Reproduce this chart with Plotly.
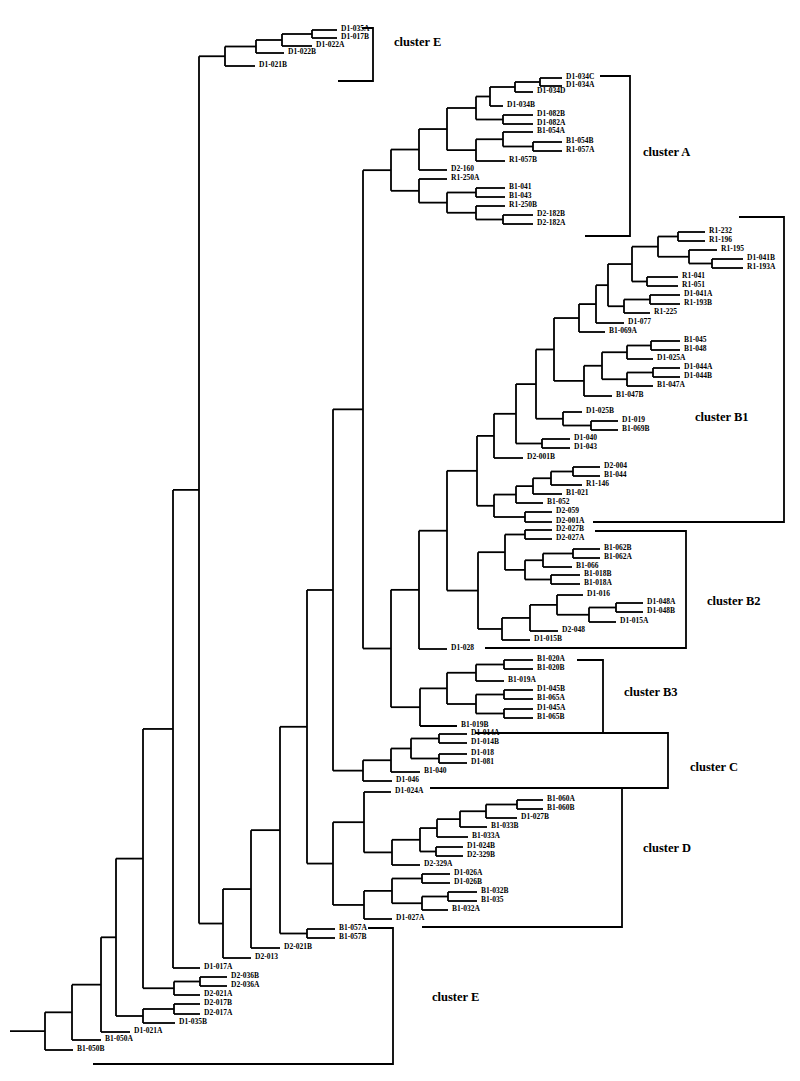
import plotly.graph_objects as go
from collections import defaultdict

# ---------------- DATA ----------------
# Internal nodes of the dendrogram: (node id, parent id, branch position on the distance axis)
backbone_nodes = [
    ("n_root", None, 45), ("n72", "n_root", 72), ("n101", "n72", 101), ("n116", "n101", 116),
    ("n143a", "n116", 143), ("n143b", "n116", 143), ("n173", "n143a", 173), ("n174a", "n143a", 174),
    ("n200a", "n174a", 200), ("n174b", "n143b", 174), ("n199", "n173", 199),
    ("n223", "n199", 223), ("n251", "n223", 251), ("n280", "n251", 280), ("n307", "n280", 307),
    ("n307b", "n280", 307), ("n333a", "n307", 333), ("n333D", "n307", 333),
    ("n363AB", "n333a", 363), ("n363C", "n333a", 363), ("n391A", "n363AB", 391),
    ("n391B", "n363AB", 391), ("n419B", "n391B", 419), ("n447B", "n419B", 447),
]
clusterE_top_nodes = [
    ("nE225", "n199", 225), ("nE256", "nE225", 256), ("nE282", "nE256", 282), ("nE312", "nE282", 312),
]
clusterA_nodes = [
    ("nA419a", "n391A", 419), ("nA419b", "n391A", 419), ("nA447a", "nA419a", 447),
    ("nA476a", "nA447a", 476), ("nA490", "nA476a", 490), ("nA515", "nA490", 515),
    ("nA540", "nA515", 540), ("nA503a", "nA476a", 503), ("nA476b", "nA447a", 476),
    ("nA503b", "nA476b", 503), ("nA533", "nA503b", 533), ("nA447b", "nA419b", 447),
    ("nA476c", "nA447b", 476), ("nA476d", "nA447b", 476), ("nA503c", "nA476d", 503),
]
clusterB1_nodes = [
    ("nB1", "n447B", 477), ("nB1_494a", "nB1", 494), ("nB1_516b", "nB1_494a", 516),
    ("nB1_536", "nB1_516b", 536), ("nB1_554", "nB1_536", 554), ("nB1_579", "nB1_554", 579),
    ("nB1_596", "nB1_579", 596), ("nB1_608", "nB1_596", 608), ("nB1_632", "nB1_608", 632),
    ("nB1_658", "nB1_632", 658), ("nB1_678", "nB1_658", 678), ("nB1_689", "nB1_658", 689),
    ("nB1_712", "nB1_689", 712), ("nB1_647", "nB1_632", 647), ("nB1_624", "nB1_608", 624),
    ("nB1_650", "nB1_624", 650), ("nB1_584", "nB1_554", 584), ("nB1_602", "nB1_584", 602),
    ("nB1_627a", "nB1_602", 627), ("nB1_651", "nB1_627a", 651), ("nB1_627b", "nB1_602", 627),
    ("nB1_653", "nB1_627b", 653), ("nB1_563", "nB1_536", 563), ("nB1_591", "nB1_563", 591),
    ("nB1_542", "nB1_516b", 542), ("nB1_494b", "nB1", 494), ("nB1_516", "nB1_494b", 516),
    ("nB1_533", "nB1_516", 533), ("nB1_551", "nB1_533", 551), ("nB1_573", "nB1_551", 573),
    ("nB1_525", "nB1_494b", 525),
]
clusterB2_nodes = [
    ("nB2", "n447B", 478), ("nB2_505", "nB2", 505), ("nB2_525a", "nB2_505", 525),
    ("nB2_525b", "nB2_505", 525), ("nB2_543", "nB2_525b", 543), ("nB2_573", "nB2_543", 573),
    ("nB2_551", "nB2_525b", 551), ("nB2_502", "nB2", 502), ("nB2_530", "nB2_502", 530),
    ("nB2_557", "nB2_530", 557), ("nB2_589", "nB2_557", 589), ("nB2_616", "nB2_589", 616),
]
clusterB3_nodes = [
    ("nB3", "n391B", 420), ("nB3_447", "nB3", 447), ("nB3_476a", "nB3_447", 476),
    ("nB3_504a", "nB3_476a", 504), ("nB3_476b", "nB3_447", 476), ("nB3_504b", "nB3_476b", 504),
    ("nB3_504c", "nB3_476b", 504),
]
clusterC_nodes = [
    ("nC_391", "n363C", 391), ("nC_411", "nC_391", 411),
    ("nC_439a", "nC_411", 439), ("nC_439b", "nC_411", 439),
]
clusterD_nodes = [
    ("nD_364a", "n333D", 364), ("nD_392", "nD_364a", 392), ("nD_420", "nD_392", 420),
    ("nD_437", "nD_420", 437), ("nD_460", "nD_437", 460), ("nD_486", "nD_460", 486),
    ("nD_517", "nD_486", 517), ("nD_436", "nD_420", 436), ("nD_364b", "n333D", 364),
    ("nD_392b", "nD_364b", 392), ("nD_422a", "nD_392b", 422), ("nD_422b", "nD_392b", 422),
    ("nD_448", "nD_422b", 448),
]

# Leaves (isolates), top to bottom: name, parent node, tip position, row position
leaf_names = [
    "D1-035A", "D1-017B", "D1-022A", "D1-022B", "D1-021B",
    "D1-034C", "D1-034A", "D1-034D", "D1-034B", "D1-082B", "D1-082A", "B1-054A", "B1-054B",
    "R1-057A", "R1-057B", "D2-160", "R1-250A", "B1-041", "B1-043", "R1-250B", "D2-182B", "D2-182A",
    "R1-232", "R1-196", "R1-195", "D1-041B", "R1-193A", "R1-041", "R1-051", "D1-041A", "R1-193B",
    "R1-225", "D1-077", "B1-069A", "B1-045", "B1-048", "D1-025A", "D1-044A", "D1-044B", "B1-047A",
    "B1-047B", "D1-025B", "D1-019", "B1-069B", "D1-040", "D1-043", "D2-001B", "D2-004", "B1-044",
    "R1-146", "B1-021", "B1-052", "D2-059", "D2-001A",
    "D2-027B", "D2-027A", "B1-062B", "B1-062A", "B1-066", "B1-018B", "B1-018A", "D1-016",
    "D1-048A", "D1-048B", "D1-015A", "D2-048", "D1-015B", "D1-028",
    "B1-020A", "B1-020B", "B1-019A", "D1-045B", "B1-065A", "D1-045A", "B1-065B", "B1-019B",
    "D1-014A", "D1-014B", "D1-018", "D1-081", "B1-040", "D1-046",
    "D1-024A", "B1-060A", "B1-060B", "D1-027B", "B1-033B", "B1-033A", "D1-024B", "D2-329B",
    "D2-329A", "D1-026A", "D1-026B", "B1-032B", "B1-035", "B1-032A", "D1-027A",
    "B1-057A", "B1-057B", "D2-021B", "D2-013", "D1-017A", "D2-036B", "D2-036A", "D2-021A",
    "D2-017B", "D2-017A", "D1-035B", "D1-021A", "B1-050A", "B1-050B",
]
leaf_parents = [
    "nE312", "nE312", "nE282", "nE256", "nE225",
    "nA540", "nA540", "nA515", "nA490", "nA503a", "nA503a", "nA503b", "nA533",
    "nA533", "nA476b", "nA419a", "nA419b", "nA476c", "nA476c", "nA476d", "nA503c", "nA503c",
    "nB1_678", "nB1_678", "nB1_689", "nB1_712", "nB1_712", "nB1_647", "nB1_647", "nB1_650", "nB1_650",
    "nB1_624", "nB1_596", "nB1_579", "nB1_651", "nB1_651", "nB1_627a", "nB1_653", "nB1_653", "nB1_627b",
    "nB1_584", "nB1_563", "nB1_591", "nB1_591", "nB1_542", "nB1_542", "nB1_494a", "nB1_573", "nB1_573",
    "nB1_551", "nB1_533", "nB1_516", "nB1_525", "nB1_525",
    "nB2_525a", "nB2_525a", "nB2_573", "nB2_573", "nB2_543", "nB2_551", "nB2_551", "nB2_557",
    "nB2_616", "nB2_616", "nB2_589", "nB2_530", "nB2_502", "n419B",
    "nB3_504a", "nB3_504a", "nB3_476a", "nB3_504b", "nB3_504b", "nB3_504c", "nB3_504c", "nB3",
    "nC_439a", "nC_439a", "nC_439b", "nC_439b", "nC_391", "n363C",
    "nD_364a", "nD_517", "nD_517", "nD_486", "nD_460", "nD_437", "nD_436", "nD_436",
    "nD_392", "nD_422a", "nD_422a", "nD_448", "nD_448", "nD_422b", "nD_364b",
    "n307b", "n307b", "n251", "n223", "n173", "n200a", "n200a", "n174a",
    "n174b", "n174b", "n143b", "n101", "n72", "n_root",
]
leaf_tip_x = [
    337, 337, 312, 284, 255,
    562, 562, 533, 503, 533, 533, 533, 562, 562, 505, 447, 447, 505, 505, 505, 533, 533,
    705, 705, 717, 743, 743, 678, 678, 680, 680, 650, 624, 605, 680, 680, 653, 680, 680, 653,
    612, 582, 618, 618, 570, 570, 523, 600, 600, 582, 562, 543, 552, 552,
    552, 552, 600, 600, 572, 580, 580, 583, 643, 643, 616, 558, 530, 447,
    533, 533, 504, 533, 533, 533, 533, 457,
    467, 467, 467, 467, 420, 392,
    391, 543, 543, 517, 487, 468, 463, 463, 420, 450, 450, 477, 477, 448, 392,
    335, 335, 280, 251, 200, 227, 227, 200, 200, 200, 175, 130, 101, 73,
]
leaf_row_y = [
    30, 38, 46, 53, 66,
    78, 86, 92, 106, 115, 124, 132, 142, 151, 161, 170, 179, 188, 197, 206, 215, 224,
    232, 241, 250, 259, 268, 277, 286, 295, 304, 313, 323, 332, 341, 350, 359, 368, 377, 386,
    396, 412, 421, 430, 439, 448, 458, 467, 476, 485, 494, 503, 512, 522,
    530, 539, 549, 558, 567, 575, 584, 595, 603, 612, 622, 631, 640, 649,
    660, 669, 681, 690, 699, 709, 718, 726,
    734, 743, 754, 763, 772, 781,
    792, 800, 809, 818, 827, 837, 847, 856, 865, 874, 883, 892, 901, 910, 919,
    929, 938, 948, 958, 968, 977, 986, 995, 1004, 1014, 1023, 1032, 1040, 1050,
]
root_stub_x = 10

cluster_names = ["cluster E", "cluster A", "cluster B1", "cluster B2",
                 "cluster B3", "cluster C", "cluster D", "cluster E"]

# ---------------- BUILD TREE ----------------
all_nodes = (backbone_nodes + clusterE_top_nodes + clusterA_nodes + clusterB1_nodes +
             clusterB2_nodes + clusterB3_nodes + clusterC_nodes + clusterD_nodes)
pos_x, pos_y = {}, {}
children = defaultdict(list)
root = None
for nid, par, x in all_nodes:
    pos_x[nid] = x
    if par is None:
        root = nid
    else:
        children[par].append(nid)
for name, par, x, y in zip(leaf_names, leaf_parents, leaf_tip_x, leaf_row_y):
    pos_x[name] = x
    pos_y[name] = y
    children[par].append(name)


def node_y(n):
    if n in pos_y:
        return pos_y[n]
    ys = [node_y(c) for c in children[n]]
    pos_y[n] = (min(ys) + max(ys)) / 2.0
    return pos_y[n]


node_y(root)

seg_x, seg_y = [], []
for n, kids in children.items():
    ys = [pos_y[c] for c in kids]
    seg_x += [pos_x[n], pos_x[n], None]
    seg_y += [min(ys), max(ys), None]
    for c in kids:
        seg_x += [pos_x[n], pos_x[c], None]
        seg_y += [pos_y[c], pos_y[c], None]
seg_x += [root_stub_x, pos_x[root], None]
seg_y += [pos_y[root], pos_y[root], None]

fig = go.Figure()
fig.add_trace(go.Scatter(x=seg_x, y=seg_y, mode="lines",
                         line=dict(color="black", width=1.8),
                         hoverinfo="skip", showlegend=False))

annotations = []
for name, x, y in zip(leaf_names, leaf_tip_x, leaf_row_y):
    annotations.append(dict(x=x, y=y, text=name, showarrow=False, xanchor="left", yanchor="middle",
                            xshift=2, yshift=2,
                            font=dict(family="Liberation Serif", size=7.5, color="black", weight="bold")))

# cluster labels and brackets (decoration)
label_pos = [(392, 42), (641, 152), (693, 417), (705, 601), (622, 692), (688, 767), (641, 848), (430, 997)]
for txt, (lx, ly) in zip(cluster_names, label_pos):
    annotations.append(dict(x=lx, y=ly, text=txt, showarrow=False, xanchor="left", yanchor="middle",
                            font=dict(family="Liberation Serif", size=12.5, color="black", weight="bold")))

brackets = [
    [(362, 28), (373, 28), (373, 81), (338, 81)],
    [(600, 76), (630, 76), (630, 236), (585, 236)],
    [(739, 217), (784, 217), (784, 522), (593, 522)],
    [(595, 531), (686, 531), (686, 648), (485, 648)],
    [(577, 660), (603, 660), (603, 733)],
    [(475, 733), (668, 733), (668, 788), (430, 788)],
    [(622, 788), (622, 927), (422, 927)],
    [(368, 928), (393, 928), (393, 1064), (93, 1064)],
]
shapes = []
for pts in brackets:
    path = "M " + " L ".join(f"{px},{py}" for px, py in pts)
    shapes.append(dict(type="path", path=path, xref="x", yref="y",
                       line=dict(color="black", width=1.8)))

fig.update_layout(
    width=800, height=1081,
    margin=dict(l=0, r=0, t=0, b=0),
    paper_bgcolor="white", plot_bgcolor="white",
    xaxis=dict(range=[0, 800], visible=False, fixedrange=True),
    yaxis=dict(range=[1081, 0], visible=False, fixedrange=True),
    annotations=annotations, shapes=shapes, showlegend=False,
)

fig.write_html("out.html", config={"displayModeBar": False},
               post_script="document.body.style.margin='0';document.body.style.overflow='hidden';")
